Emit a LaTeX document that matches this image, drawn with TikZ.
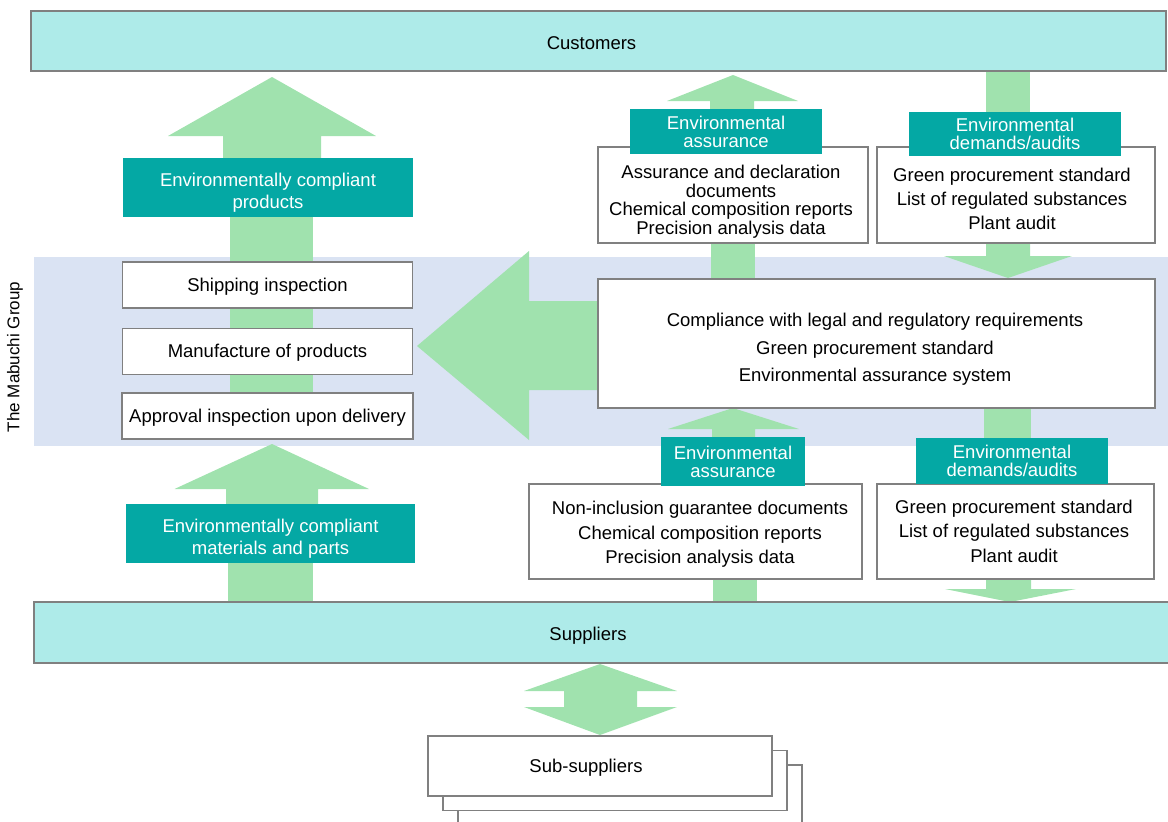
\documentclass[tikz,border=0pt]{standalone}
\usepackage{fontspec}
\setmainfont{Liberation Sans}
\usetikzlibrary{positioning, calc}
\definecolor{teal1}{RGB}{4,168,164}
\definecolor{cyan1}{RGB}{174,235,233}
\definecolor{band1}{RGB}{218,227,243}
\definecolor{green1}{RGB}{160,226,174}
\definecolor{gray1}{RGB}{128,128,128}

\begin{document}
\begin{tikzpicture}[x=1pt, y=-1pt, font=\fontsize{18.5}{18.5}\selectfont,
  box/.style={draw=gray1, line width=1.5pt, fill=white, inner sep=0pt, text height=15pt, text depth=3pt},
  bar/.style={draw=gray1, line width=1.5pt, fill=cyan1, inner sep=0pt},
  tag/.style={fill=teal1, text=white, inner sep=0pt, align=center, font=\fontsize{18.5}{#1}\selectfont},
  tag/.default=18,
  txt/.style={align=center, font=\fontsize{18.5}{#1}\selectfont},
  txt/.default=18.5,
  flow/.style={fill=green1}]
  \useasboundingbox (0,0) rectangle (1168,822);
  \clip (0,0) rectangle (1168,822);

  % group band
  \fill[band1] (34,257) rectangle (1168,446);
  \node[rotate=90, font=\fontsize{17}{17}\selectfont] (group) at (15,357) {The Mabuchi Group};

  % block arrows
  \fill[flow] (272,77) -- (376,136) -- (321,136) -- (321,170) -- (223,170) -- (223,136) -- (168,136) -- cycle;
  \fill[flow] (230,210) rectangle (313,436);
  \fill[flow] (272,444) -- (369,489) -- (318,489) -- (318,515) -- (226,515) -- (226,489) -- (174.5,489) -- cycle;
  \fill[flow] (228,555) rectangle (313,603);
  \fill[flow] (417,346) -- (529,251) -- (529,301) -- (610,301) -- (610,390) -- (529,390) -- (529,440) -- cycle;
  \fill[flow] (733,75) -- (798,101) -- (754,101) -- (754,115) -- (710,115) -- (710,101) -- (667,101) -- cycle;
  \fill[flow] (711,240) rectangle (755,281);
  \fill[flow] (986,70) rectangle (1030,115);
  \fill[flow] (986,240) -- (1030,240) -- (1030,256) -- (1072,256) -- (1008,278) -- (944,256) -- (986,256) -- cycle;
  \fill[flow] (733,408) -- (799,429) -- (755,429) -- (755,440) -- (712,440) -- (712,429) -- (668,429) -- cycle;
  \fill[flow] (713,576) rectangle (757,603);
  \fill[flow] (984,405) rectangle (1031,440);
  \fill[flow] (986,576) -- (1031,576) -- (1031,589) -- (1076,589) -- (1010,602) -- (945,589) -- (986,589) -- cycle;
  \fill[flow] (600,664) -- (677,691) -- (637,691) -- (637,707) -- (677,707) -- (600,735) -- (524,707) -- (564,707) -- (564,691) -- (524,691) -- cycle;

  % customers and suppliers
  \node[bar, minimum width=1135pt, minimum height=60pt, label={[xshift=-7pt, yshift=-2pt]center:Customers}] (cust) at (598.5,41) {};
  \node[bar, minimum width=1138pt, minimum height=61pt, label={[xshift=-15pt, yshift=-3pt]center:Suppliers}] (supp) at (603,632.5) {};
  \foreach \k in {2,1}
    \node[box, minimum width=344pt, minimum height=60pt] (sub\k) at (600+15*\k, 766+14.5*\k) {};
  \node[box, minimum width=344pt, minimum height=60pt, label={[xshift=-14pt, yshift=-2pt]center:Sub-suppliers}] (sub) at (600,766) {};

  % left column
  \node[tag, minimum width=290pt, minimum height=59pt] (prod) at (268,187.5) {};
  \node[txt=21.5, text=white] (prodtext) at (268,192.5) {Environmentally compliant\\products};
  \node[box, minimum width=290pt, minimum height=46pt] (ship) at (267.5,285) {Shipping inspection};
  \node[box, minimum width=290pt, minimum height=46pt, below=19pt of ship] (manu) {Manufacture of products};
  \node[box, minimum width=291pt, minimum height=46pt, below=17pt of manu] (appr) {Approval inspection upon delivery};
  \node[tag, minimum width=289pt, minimum height=59pt] (mat) at (270.5,533.5) {};
  \node[txt=21.5, text=white] (mattext) at (270.5,538.5) {Environmentally compliant\\materials and parts};

  % right side
  \node[box, minimum width=557pt, minimum height=129pt] (core) at (876.5,343.5) {};
  \node[txt=27.5] (coretext) at (875,349.5) {Compliance with legal and regulatory requirements\\Green procurement standard\\Environmental assurance system};
  \node[box, minimum width=270pt, minimum height=96pt] (uabox) at (733,195) {};
  \node[txt] (uatext) at (731,201.5) {Assurance and declaration\\documents\\Chemical composition reports\\Precision analysis data};
  \node[tag, minimum width=192pt, minimum height=45pt] (ualab) at (726,131.5) {Environmental\\assurance};
  \node[box, minimum width=278pt, minimum height=96pt] (udbox) at (1016,195) {};
  \node[txt=24] (udtext) at (1012,199) {Green procurement standard\\List of regulated substances\\Plant audit};
  \node[tag, minimum width=212pt, minimum height=44pt] (udlab) at (1015,134) {Environmental\\demands/audits};
  \node[box, minimum width=333pt, minimum height=95pt] (nibox) at (695.5,531.5) {};
  \node[txt=24.5] (nitext) at (700,534.5) {Non-inclusion guarantee documents\\Chemical composition reports\\Precision analysis data};
  \node[tag, minimum width=144pt, minimum height=49pt] (lalab) at (733,461.5) {Environmental\\assurance};
  \node[box, minimum width=277pt, minimum height=95pt] (ldbox) at (1015.5,531.5) {};
  \node[txt=24.5] (ldtext) at (1014,531) {Green procurement standard\\List of regulated substances\\Plant audit};
  \node[tag, minimum width=192pt, minimum height=46pt] (ldlab) at (1012,460.5) {Environmental\\demands/audits};
\end{tikzpicture}
\end{document}
